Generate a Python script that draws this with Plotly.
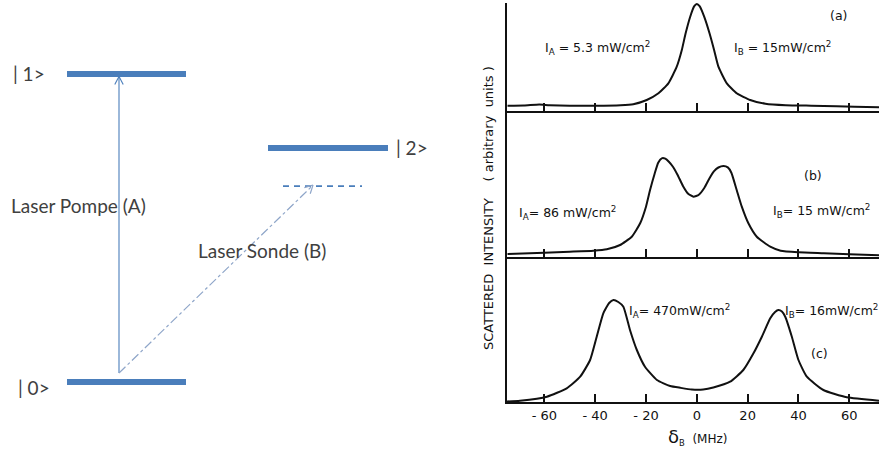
import numpy as np
import plotly.graph_objects as go

W, H = 879, 453

# ---------------- data: spectra (detuning in MHz, intensity in arbitrary units) ----------------
a_mhz = [-74.5, -68, -62, -58, -50, -40, -30, -25, -19.7, -15.1, -11.2, -7.9, -5.9, -4.4, -2.6,
         -1.0, 0, 1.1, 2.9, 5.0, 6.8, 8.5, 11.8, 15.7, 21, 27, 35, 45, 55, 62, 71.7]
a_int = [5, 5.2, 6.2, 5.5, 5, 5, 5.5, 6.5, 10.7, 17.4, 27.4, 44, 60.7, 77.4, 94,
         104.5, 106.7, 104.5, 94, 77.4, 60.7, 44, 27.4, 17.4, 10.7, 7, 5.5, 5, 4.5, 4, 3.5]

b_mhz = [-74.5, -60, -50, -40.7, -35.4, -30.2, -25.6, -22.3, -20, -18.4, -16.6, -15.2, -13.8,
         -12.4, -11.0, -9.4, -7.6, -5.4, -3.4, -1.3, 0.8, 3.0, 5.0, 6.8, 8.5, 10.5, 12.2, 13.6,
         15.7, 17.7, 20.3, 23.6, 28.9, 33, 40, 50, 60, 71.7]
b_int = [2.7, 4, 5, 6, 7.4, 11.7, 20, 33.4, 50, 66.7, 83.0, 94, 98.4,
         98.0, 95.0, 90.0, 82.0, 70.5, 63.0, 60.0, 62.0, 69.0, 78.5, 85.5, 89.2, 90.7, 89.3, 84.0,
         66.7, 50, 33.4, 20, 10, 6, 4.5, 3.5, 2.5, 1.5]

c_mhz = [-74.7, -69.6, -59, -51.2, -45.9, -42, -39.4, -36.8, -34.5, -32.8, -30.9, -28.9, -26.3,
         -23.6, -20.4, -15.7, -10.5, -6.5, -2, 2.5, 6.5, 13.1, 18.3, 22.3, 25.6, 28.9, 30.8,
         32.1, 33.5, 34.8, 37.4, 40, 43.3, 49.8, 59, 71.7]
c_int = [0.5, 1.3, 5.3, 13.7, 25.3, 42, 65.3, 88.7, 99, 102, 100, 95.3, 72,
         52, 35.3, 22, 16, 14.2, 12.5, 12.5, 14.5, 20.3, 32, 48.7, 65.3, 83.7, 90,
         92, 90.5, 85.3, 65.3, 42, 25.3, 12, 4.7, 1.3]

tick_vals = [-60, -40, -20, 0, 20, 40, 60]
tick_text = ["- 60", "- 40", "- 20", "0", "20", "40", "60"]

# ---------------- data: energy level diagram ----------------
level_names = ["|0&gt;", "|1&gt;", "|2&gt;"]
level_energy = [0.0, 1.0, 0.76]
virtual_energy = 0.636
pump_label = "Laser Pompe (A)"
probe_label = "Laser Sonde (B)"

# ---------------- layout helpers ----------------
def px(x, y):
    return x / W, 1 - y / H

# diagram axis: x in pixels, y in energy units
E0_PX, E_SCALE = 382.0, 308.0           # pixel row of |0>, pixels per energy unit
dia_yrange = [-(H - E0_PX) / E_SCALE, E0_PX / E_SCALE]

def e2px(e):
    return E0_PX - e * E_SCALE

def px2e(p):
    return (E0_PX - p) / E_SCALE

LEVEL_COLOR = "#4A7EBB"
TEXT_GREY = "#404040"

fig = go.Figure()

curve_style = dict(color="#111111", width=2, shape="spline", smoothing=0.5)
for xs, ys, xa, ya in [(a_mhz, a_int, "x", "y"), (b_mhz, b_int, "x2", "y2"), (c_mhz, c_int, "x3", "y3")]:
    fig.add_trace(go.Scatter(x=xs, y=ys, xaxis=xa, yaxis=ya, mode="lines",
                             line=curve_style, hoverinfo="skip", showlegend=False))

# level bars
level_x = [(67, 186), (67, 186), (268, 388)]
for (x0, x1), e in zip(level_x, level_energy):
    fig.add_trace(go.Scatter(x=[x0, x1], y=[e, e], xaxis="x4", yaxis="y4", mode="lines",
                             line=dict(color=LEVEL_COLOR, width=6), hoverinfo="skip", showlegend=False))
# virtual level
fig.add_trace(go.Scatter(x=[283, 362], y=[virtual_energy, virtual_energy], xaxis="x4", yaxis="y4",
                         mode="lines", line=dict(color=LEVEL_COLOR, width=1.6, dash="6px,5px"),
                         hoverinfo="skip", showlegend=False))

def arrow(x0, e0, x1, e1, color, dash, width):
    fig.add_trace(go.Scatter(x=[x0, x1], y=[e0, e1], xaxis="x4", yaxis="y4", mode="lines",
                             line=dict(color=color, width=width, dash=dash),
                             hoverinfo="skip", showlegend=False))
    # open arrow head computed in pixel space
    p0 = np.array([x0, e2px(e0)])
    p1 = np.array([x1, e2px(e1)])
    d = (p1 - p0) / np.linalg.norm(p1 - p0)
    L, ang = 9.0, np.radians(28)
    hx, hy = [], []
    for s in (1, -1):
        c, sn = np.cos(s * ang), np.sin(s * ang)
        r = np.array([d[0] * c - d[1] * sn, d[0] * sn + d[1] * c])
        q = p1 - L * r
        hx += [q[0], p1[0], None]
        hy += [px2e(q[1]), e1, None]
    fig.add_trace(go.Scatter(x=hx, y=hy, xaxis="x4", yaxis="y4", mode="lines",
                             line=dict(color=color, width=width), hoverinfo="skip", showlegend=False))

start_e = px2e(373)
arrow(119, start_e, 119, level_energy[1] - 0.008, LEVEL_COLOR, "solid", 1.1)
arrow(119, start_e, 313, virtual_energy + 0.003, "#8FA6C9", "dashdot", 1.2)

annotations = []
# level labels
for name, e, xl in zip(level_names, level_energy, [16, 11, 394]):
    yoff = {0.0: 5, 1.0: -1, 0.76: 0}[e]
    annotations.append(dict(x=xl, y=px2e(e2px(e) + yoff), xref="x4", yref="y4",
                            text=name.replace("|", "| "), showarrow=False, xanchor="left",
                            yanchor="middle", font=dict(family="Lato", size=19, color=TEXT_GREY)))
annotations.append(dict(x=9, y=px2e(205), xref="x4", yref="y4", text=pump_label, showarrow=False,
                        xanchor="left", yanchor="middle", font=dict(family="Lato", size=19, color=TEXT_GREY)))
annotations.append(dict(x=196, y=px2e(250), xref="x4", yref="y4", text=probe_label, showarrow=False,
                        xanchor="left", yanchor="middle", font=dict(family="Lato", size=19, color=TEXT_GREY)))

# spectrum labels
lab_font = dict(family="DejaVu Sans", size=12.5, color="#111111")
for txt, x, y in [
    ("(a)", 838, 16),
    ("I<sub>A</sub> = 5.3 mW/cm<sup>2</sup>", 597, 48),
    ("I<sub>B</sub> = 15mW/cm<sup>2</sup>", 782, 48),
    ("(b)", 813, 175),
    ("I<sub>A</sub>= 86 mW/cm<sup>2</sup>", 567, 213),
    ("I<sub>B</sub>= 15 mW/cm<sup>2</sup>", 821, 211),
    ("I<sub>A</sub>= 470mW/cm<sup>2</sup>", 679, 311),
    ("I<sub>B</sub>= 16mW/cm<sup>2</sup>", 831, 311),
    ("(c)", 819, 353),
]:
    xx, yy = px(x, y)
    annotations.append(dict(x=xx, y=yy, xref="paper", yref="paper", text=txt, showarrow=False,
                            xanchor="center", yanchor="middle", font=lab_font))

xx, yy = px(488, 208)
annotations.append(dict(x=xx, y=yy, xref="paper", yref="paper",
                        text="SCATTERED  INTENSITY    ( arbitrary  units )", textangle=-90,
                        showarrow=False, xanchor="center", yanchor="middle",
                        font=dict(family="DejaVu Sans", size=13, color="#111111")))
xx, yy = px(697, 437)
annotations.append(dict(x=xx, y=yy, xref="paper", yref="paper",
                        text="<span style='font-size:18px'>δ</span><sub>B</sub>  (MHz)",
                        showarrow=False, xanchor="center", yanchor="middle",
                        font=dict(family="DejaVu Sans", size=12, color="#111111")))

x_dom = [507 / W, 1.0]
x_rng = [-74.7, 71.7]
def xax(show_labels, anchor):
    return dict(domain=x_dom, range=x_rng, anchor=anchor, showline=True, linecolor="#111111",
                linewidth=2, ticks="inside", ticklen=8, tickwidth=1.5, tickcolor="#111111",
                tickvals=tick_vals, ticktext=tick_text, showticklabels=show_labels,
                tickfont=dict(family="DejaVu Sans", size=13, color="#111111"),
                showgrid=False, zeroline=False, fixedrange=True)

def yax(dom, rng, anchor):
    return dict(domain=dom, range=rng, anchor=anchor, showline=True, linecolor="#111111",
                linewidth=2, ticks="", showticklabels=False, showgrid=False, zeroline=False,
                fixedrange=True)

ya_top, ya_bot = 1 - 3 / H, 1 - 110.7 / H
yb_bot = 1 - 256.7 / H
yc_bot = 1 - 402 / H

fig.update_layout(
    width=W, height=H, margin=dict(l=0, r=0, t=0, b=0),
    paper_bgcolor="white", plot_bgcolor="rgba(0,0,0,0)",
    showlegend=False,
    xaxis=xax(False, "y"),
    yaxis=yax([ya_bot, ya_top], [0, 107.7], "x"),
    xaxis2=xax(False, "y2"),
    yaxis2=yax([yb_bot, ya_bot], [0, 146], "x2"),
    xaxis3=xax(True, "y3"),
    yaxis3=yax([yc_bot, yb_bot], [0, 145.3], "x3"),
    xaxis4=dict(domain=[0, 439.5 / W], range=[0, 439.5], anchor="y4", visible=False, fixedrange=True),
    yaxis4=dict(domain=[0, 1], range=dia_yrange, anchor="x4", visible=False, fixedrange=True),
    annotations=annotations,
)

fig.write_html("out.html", config={"displayModeBar": False},
               post_script="document.body.style.margin='0';document.body.style.overflow='hidden';")
